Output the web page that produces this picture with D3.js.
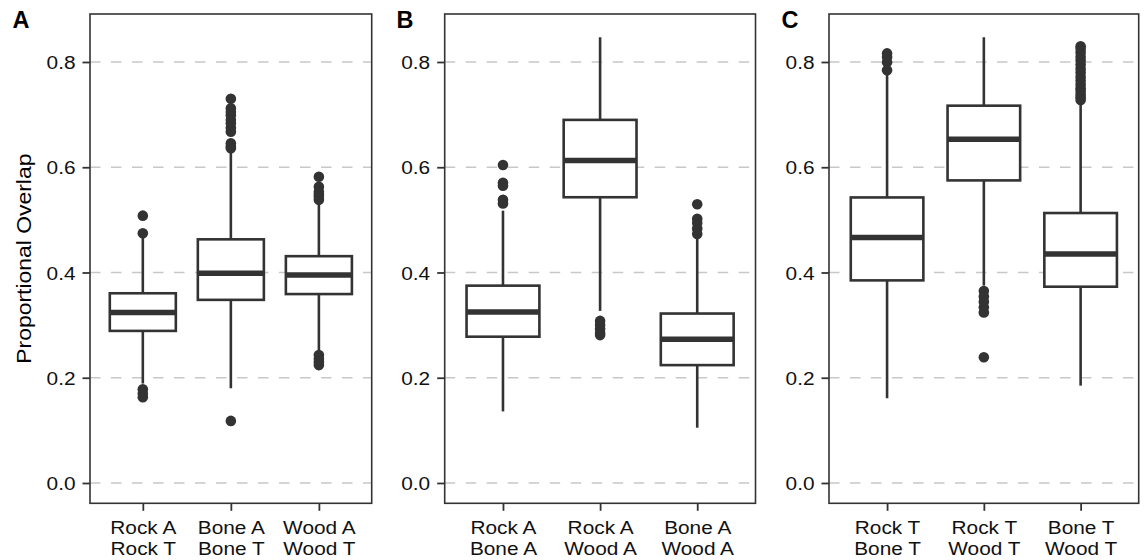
<!DOCTYPE html>
<html>
<head>
<meta charset="utf-8">
<script src="https://cdn.jsdelivr.net/npm/d3@7"></script>
<style>
  html, body { margin: 0; padding: 0; background: #fff; }
  svg { display: block; }
  text { font-family: "Liberation Sans", Arial, Helvetica, sans-serif; }
</style>
</head>
<body>
<svg id="chart" width="1147" height="560"></svg>
<script>
// ---------------- data ----------------
const panelLetters = ["A", "B", "C"];
const categories = [
  [["Rock A", "Rock T"], ["Bone A", "Bone T"], ["Wood A", "Wood T"]],
  [["Rock A", "Bone A"], ["Rock A", "Wood A"], ["Bone A", "Wood A"]],
  [["Rock T", "Bone T"], ["Rock T", "Wood T"], ["Bone T", "Wood T"]]
];
const whiskerLow = [
  [0.189, 0.180, 0.250],
  [0.136, 0.327, 0.105],
  [0.161, 0.375, 0.185]
];
const q1 = [
  [0.289, 0.348, 0.359],
  [0.278, 0.543, 0.224],
  [0.385, 0.575, 0.373]
];
const median = [
  [0.324, 0.3985, 0.395],
  [0.325, 0.613, 0.273],
  [0.4666, 0.653, 0.435]
];
const q3 = [
  [0.3605, 0.463, 0.431],
  [0.375, 0.690, 0.322],
  [0.5426, 0.717, 0.513]
];
const whiskerHigh = [
  [0.466, 0.628, 0.530],
  [0.5175, 0.847, 0.467],
  [0.776, 0.847, 0.722]
];
const outliers = [
  [
    [0.508, 0.4745, 0.178, 0.170, 0.163],
    [0.730, 0.712, 0.705, 0.699, 0.690, 0.6835, 0.675, 0.6675, 0.6455, 0.640, 0.636, 0.118],
    [0.582, 0.563, 0.5535, 0.548, 0.544, 0.538, 0.243, 0.236, 0.230, 0.224]
  ],
  [
    [0.6044, 0.5705, 0.565, 0.538, 0.531],
    [0.308, 0.300, 0.293, 0.285, 0.281],
    [0.5297, 0.5019, 0.494, 0.4835, 0.4733]
  ],
  [
    [0.8163, 0.8095, 0.7993, 0.7844],
    [0.3647, 0.3545, 0.3443, 0.3341, 0.3239, 0.239],
    [0.830, 0.825, 0.818, 0.810, 0.803, 0.795, 0.787, 0.780, 0.772, 0.765, 0.757, 0.750, 0.745, 0.738, 0.733, 0.728]
  ]
];
const yTicks = [0, 0.2, 0.4, 0.6, 0.8];
const yLabel = "Proportional Overlap";

// ---------------- layout ----------------
const panelLeft = [90, 444.7, 829];
const panelRight = [371.7, 755.5, 1138.7];
const letterX = [12.5, 396.5, 781.5];
const panelTop = 14, panelBottom = 503.3;
const yDomain = [-0.0386, 0.8912];

const ink = "#333333";
const textInk = "#111111";
const tickFont = 18.6, tickStretch = 1.12;

const svg = d3.select("#chart");

const y = d3.scaleLinear().domain(yDomain).range([panelBottom, panelTop]);

panelLetters.forEach((letter, p) => {
  const L = panelLeft[p], R = panelRight[p];
  const cats = categories[p].map(c => c.join("\n"));
  const x = d3.scalePoint().domain(cats).range([L, R]).padding(0.6);
  const bw = x.step() * 0.75;
  const g = svg.append("g");

  // gridlines
  g.append("g").selectAll("line").data(yTicks).join("line")
    .attr("x1", L).attr("x2", R)
    .attr("y1", d => y(d)).attr("y2", d => y(d))
    .attr("stroke", "#c8c8c8").attr("stroke-width", 1.6)
    .attr("stroke-dasharray", "10.5,10.5");

  // boxes
  const rows = cats.map((c, i) => ({
    c, lo: whiskerLow[p][i], q1: q1[p][i], med: median[p][i], q3: q3[p][i],
    hi: whiskerHigh[p][i], out: outliers[p][i]
  }));
  const bg = g.append("g").selectAll("g").data(rows).join("g");
  bg.append("line")
    .attr("x1", d => x(d.c)).attr("x2", d => x(d.c))
    .attr("y1", d => y(d.hi)).attr("y2", d => y(d.q3))
    .attr("stroke", ink).attr("stroke-width", 2.6);
  bg.append("line")
    .attr("x1", d => x(d.c)).attr("x2", d => x(d.c))
    .attr("y1", d => y(d.q1)).attr("y2", d => y(d.lo))
    .attr("stroke", ink).attr("stroke-width", 2.6);
  bg.append("rect")
    .attr("x", d => x(d.c) - bw / 2).attr("width", bw)
    .attr("y", d => y(d.q3)).attr("height", d => y(d.q1) - y(d.q3))
    .attr("fill", "#fff").attr("stroke", ink).attr("stroke-width", 2.6);
  bg.append("line")
    .attr("x1", d => x(d.c) - bw / 2).attr("x2", d => x(d.c) + bw / 2)
    .attr("y1", d => y(d.med)).attr("y2", d => y(d.med))
    .attr("stroke", ink).attr("stroke-width", 5.5);
  bg.selectAll("circle").data(d => d.out.map(v => ({ c: d.c, v }))).join("circle")
    .attr("cx", d => x(d.c)).attr("cy", d => y(d.v)).attr("r", 5.3)
    .attr("fill", ink);

  // border
  g.append("rect")
    .attr("x", L).attr("y", panelTop)
    .attr("width", R - L).attr("height", panelBottom - panelTop)
    .attr("fill", "none").attr("stroke", ink).attr("stroke-width", 1.6);

  // y axis
  const ya = g.append("g").attr("transform", `translate(${L},0)`)
    .call(d3.axisLeft(y).tickValues(yTicks).tickFormat(d3.format(".1f")).tickSize(7.5));
  ya.select(".domain").remove();
  ya.selectAll(".tick line").attr("stroke", ink).attr("stroke-width", 1.8);
  ya.selectAll(".tick text")
    .attr("x", 0).attr("dy", "0.35em")
    .attr("transform", `translate(-14.5,0) scale(${tickStretch},1)`)
    .attr("fill", textInk).style("font-size", tickFont + "px");

  // x axis
  const xa = g.append("g").attr("transform", `translate(0,${panelBottom})`)
    .call(d3.axisBottom(x).tickSize(7.5));
  xa.select(".domain").remove();
  xa.selectAll(".tick line").attr("stroke", ink).attr("stroke-width", 1.8);
  xa.selectAll(".tick text").each(function (d) {
    const t = d3.select(this);
    const lines = d.split("\n");
    t.text(null).attr("y", 0).attr("dy", null)
      .attr("transform", `scale(${tickStretch},1)`)
      .attr("fill", textInk).style("font-size", tickFont + "px");
    lines.forEach((ln, k) => {
      t.append("tspan").attr("x", 0).attr("y", 30.7 + k * 21).text(ln);
    });
  });

  // panel letter
  svg.append("text")
    .attr("x", letterX[p]).attr("y", 27.5)
    .style("font-size", "23.5px").style("font-weight", "bold")
    .attr("fill", "#000").text(letter);
});

// y axis title
svg.append("text")
  .attr("transform", `translate(31,${(panelTop + panelBottom) / 2}) rotate(-90) scale(1.175,1)`)
  .attr("text-anchor", "middle")
  .style("font-size", "19.5px").attr("fill", "#000")
  .text(yLabel);
</script>
</body>
</html>
